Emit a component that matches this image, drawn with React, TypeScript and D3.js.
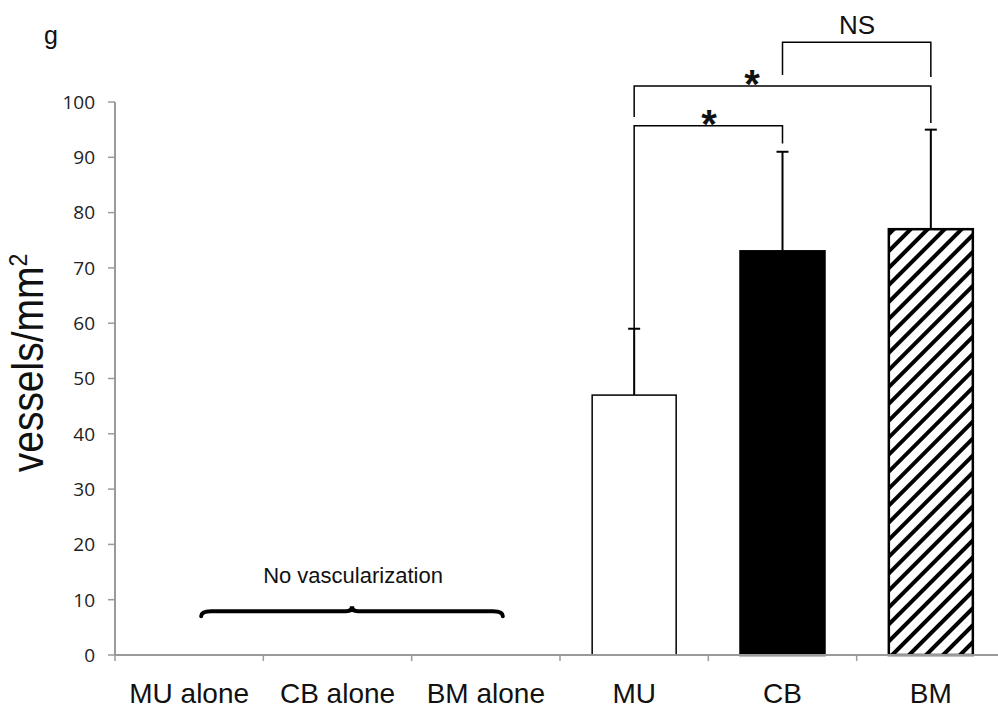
import React from 'react';
import * as d3 from 'd3';

const categories = ['MU alone', 'CB alone', 'BM alone', 'MU', 'CB', 'BM'];
const barGroups = ['MU', 'CB', 'BM'];
const means = [47, 73, 77];
const upperErrors = [59, 91, 95];
const yTicks = [0, 10, 20, 30, 40, 50, 60, 70, 80, 90, 100];

// significance brackets: from, to, level (value units), label
const brackets = [
  { from: 'MU', to: 'CB', level: 95.7, legFrom: 59, legTo: 92.5, label: '*' },
  { from: 'MU', to: 'BM', level: 102.9, legFrom: 97.3, legTo: 96.2, label: '*' },
  { from: 'CB', to: 'BM', level: 110.8, legFrom: 104.9, legTo: 104.5, label: 'NS' },
];

const W = 998;
const H = 712;
const margin = { top: 102, left: 115, bottom: 57 };
const font = 'Liberation Sans, Arial, sans-serif';

export default function App() {
  const x = d3
    .scaleBand<string>()
    .domain(categories)
    .range([margin.left, 1005])
    .paddingInner(0)
    .paddingOuter(0);

  const y = d3
    .scaleLinear()
    .domain([0, 100])
    .range([H - margin.bottom, margin.top]);

  const barW = 84;
  const cx = (c: string) => (x(c) as number) + x.bandwidth() / 2;

  const fills = ['#fff', '#000', 'url(#hatch)'];

  // brace for "No vascularization"
  const bx0 = cx('MU alone') + 12;
  const bx1 = cx('BM alone') + 17;
  const by = y(7.9);
  const bmid = (bx0 + bx1) / 2;
  const bracePath = `M${bx0},${by + 5} Q${bx0},${by} ${bx0 + 10},${by} L${bmid - 6},${by} Q${bmid},${by} ${bmid},${by - 5} Q${bmid},${by} ${bmid + 6},${by} L${bx1 - 10},${by} Q${bx1},${by} ${bx1},${by + 5}`;

  return (
    <div style={{ position: 'fixed', left: 0, top: 0 }}>
      <svg width={W} height={H} style={{ display: 'block', background: '#fff' }}>
        <defs>
          <pattern id="hatch" width="12" height="12" patternUnits="userSpaceOnUse" patternTransform="rotate(45)">
            <rect width="12" height="12" fill="#fff" />
            <line x1="0" y1="0" x2="0" y2="12" stroke="#000" strokeWidth="8" />
          </pattern>
        </defs>

        <text x={44} y={44} fontFamily={font} fontSize={25} fill="#111">g</text>

        {/* y axis */}
        <line x1={margin.left} x2={margin.left} y1={y(100)} y2={y(0)} stroke="#9a9a9a" strokeWidth={2} />
        {yTicks.map(t => (
          <g key={t}>
            <line x1={margin.left - 7} x2={margin.left} y1={y(t)} y2={y(t)} stroke="#9a9a9a" strokeWidth={1.5} />
            <text x={95} y={y(t)} dy="0.36em" textAnchor="end" fontFamily="Open Sans, sans-serif" fontSize={19} fill="#222">{t}</text>
          </g>
        ))}

        <text
          transform="translate(43,363) rotate(-90) scale(1,1.15)"
          textAnchor="middle"
          fontFamily={font}
          fontSize={39}
          fill="#111"
        >
          vessels/mm<tspan dy="-14" fontSize={23}>2</tspan>
        </text>

        {/* bars */}
        {barGroups.map((c, i) => {
          const left = cx(c) - barW / 2;
          return (
            <g key={c}>
              <line x1={cx(c)} x2={cx(c)} y1={y(means[i])} y2={y(upperErrors[i])} stroke="#000" strokeWidth={2} />
              <line x1={cx(c) - 6} x2={cx(c) + 6} y1={y(upperErrors[i])} y2={y(upperErrors[i])} stroke="#000" strokeWidth={2} />
              <rect
                x={left}
                y={y(means[i])}
                width={barW}
                height={y(0) - y(means[i])}
                fill={fills[i]}
                stroke="#000"
                strokeWidth={i === 0 ? 1.5 : 2.5}
              />
            </g>
          );
        })}

        {/* x axis */}
        <line x1={margin.left} x2={W} y1={y(0)} y2={y(0)} stroke="#9a9a9a" strokeWidth={2} />
        {categories.map(c => (
          <g key={c}>
            <line x1={x(c) as number} x2={x(c) as number} y1={y(0)} y2={y(0) + 6} stroke="#9a9a9a" strokeWidth={1.5} />
            <text x={cx(c)} y={703} textAnchor="middle" fontFamily={font} fontSize={28} fill="#111">{c}</text>
          </g>
        ))}

        {/* brace */}
        <path d={bracePath} fill="none" stroke="#000" strokeWidth={4} strokeLinecap="round" />
        <text x={353} y={583} textAnchor="middle" fontFamily={font} fontSize={22} fill="#111">No vascularization</text>

        {/* significance brackets */}
        {brackets.map((b, i) => {
          const x0 = cx(b.from);
          const x1 = cx(b.to);
          const ly = y(b.level);
          return (
            <g key={i}>
              <path
                d={`M${x0},${y(b.legFrom)} L${x0},${ly} L${x1},${ly} L${x1},${y(b.legTo)}`}
                fill="none"
                stroke="#000"
                strokeWidth={1.5}
              />
              {b.label === '*' ? (
                <text x={i === 0 ? 709 : 752} y={ly + 12} textAnchor="middle" fontFamily={font} fontWeight="bold" fontSize={40} fill="#111">*</text>
              ) : (
                <text x={857} y={34} textAnchor="middle" fontFamily={font} fontSize={26} fill="#111">{b.label}</text>
              )}
            </g>
          );
        })}
      </svg>
    </div>
  );
}
